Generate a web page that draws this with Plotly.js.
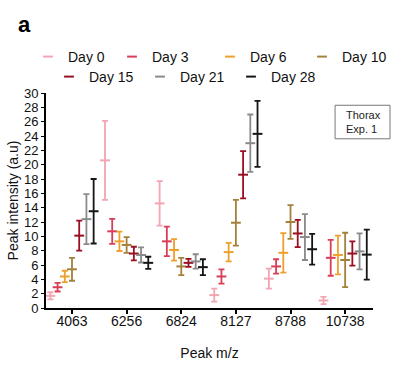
<!DOCTYPE html>
<html>
<head>
<meta charset="utf-8">
<script src="https://cdn.plot.ly/plotly-3.0.1.min.js"></script>
<style>html,body{margin:0;padding:0;background:#fff;}#chart{width:400px;height:367px;}</style>
</head>
<body>
<div id="chart"></div>
<script>
var peaks = ['4063', '6256', '6824', '8127', '8788', '10738'];
var days = ['Day 0', 'Day 3', 'Day 6', 'Day 10', 'Day 15', 'Day 21', 'Day 28'];
var colors = ['#f2a5b3', '#d83e58', '#efa02c', '#a2813a', '#9a0f22', '#8a8a8a', '#151515'];

var day0Mean  = [1.7, 20.6, 14.6, 1.8, 4.1, 1.05];
var day0Sd    = [0.5, 5.5, 3.1, 0.9, 1.4, 0.5];
var day3Mean  = [2.9, 10.7, 9.3, 4.4, 5.8, 7.0];
var day3Sd    = [0.6, 1.75, 2.05, 1.0, 1.0, 2.5];
var day6Mean  = [4.4, 9.3, 8.1, 7.8, 7.7, 7.4];
var day6Sd    = [0.8, 1.35, 1.5, 1.3, 2.75, 2.7];
var day10Mean = [5.4, 8.8, 5.8, 11.9, 12.0, 6.7];
var day10Sd   = [1.6, 1.1, 1.2, 3.2, 2.35, 3.8];
var day15Mean = [10.1, 7.6, 6.3, 18.6, 10.4, 7.6];
var day15Sd   = [2.1, 0.95, 0.55, 3.3, 1.9, 1.7];
var day21Mean = [12.4, 7.4, 6.5, 23.0, 9.9, 7.9];
var day21Sd   = [3.5, 1.05, 1.0, 4.0, 3.2, 2.5];
var day28Mean = [13.5, 6.3, 5.7, 24.3, 8.2, 7.45];
var day28Sd   = [4.5, 0.85, 1.1, 4.6, 2.15, 3.5];

var means = [day0Mean, day3Mean, day6Mean, day10Mean, day15Mean, day21Mean, day28Mean];
var sds = [day0Sd, day3Sd, day6Sd, day10Sd, day15Sd, day21Sd, day28Sd];

// legend entry placement (pixel position of each entry's text start, row)
var legendTextX = [68, 152, 250, 342, 89, 180, 271];
var legendRowY = [57, 57, 57, 57, 77, 77, 77];

var W = 400, H = 367;
var step = 0.132;
var legendNames = days.map(function (d, i) { return i === 0 ? 'legend' : 'legend' + (i + 1); });

var traces = days.map(function (d, i) {
  return {
    type: 'scatter',
    mode: 'markers',
    name: d,
    x: peaks.map(function (p, j) { return j + (i - 3) * step; }),
    y: means[i],
    marker: {symbol: 'line-ew', size: 7, line: {color: colors[i], width: 2}, color: colors[i]},
    error_y: {type: 'data', array: sds[i], visible: true, color: colors[i], thickness: 1.8, width: 3},
    legend: legendNames[i],
    hoverinfo: 'x+y'
  };
});

var legFont = {family: 'Liberation Sans, Arial, sans-serif', size: 14, color: '#111'};
var layout = {
  width: W, height: H,
  margin: {l: 46, r: 27, t: 91, b: 59},
  paper_bgcolor: '#fff', plot_bgcolor: '#fff',
  font: {family: 'Liberation Sans, Arial, sans-serif', size: 14, color: '#111'},
  xaxis: {
    range: [-0.476, 5.51], tickvals: [0, 1, 2, 3, 4, 5], ticktext: peaks,
    showline: true, linecolor: '#000', linewidth: 2, ticks: 'outside', ticklen: 4, tickwidth: 2, tickcolor: '#000',
    showgrid: false, zeroline: false, tickfont: {size: 14}, ticklabelstandoff: -5,
    title: {text: 'Peak m/z', font: {size: 14}, standoff: 20}
  },
  yaxis: {
    range: [0, 30], dtick: 2, tick0: 0,
    showline: true, linecolor: '#000', linewidth: 2, ticks: 'outside', ticklen: 3, tickwidth: 1, tickcolor: '#000',
    showgrid: false, zeroline: false, tickfont: {size: 13}, ticklabelstandoff: 0,
    title: {text: 'Peak intensity (a.u)', font: {size: 14}, standoff: 2}
  },
  shapes: [
    {type: 'rect', xref: 'paper', yref: 'paper', x0: 0.884, x1: 1.052, y0: 0.787, y1: 0.943,
     line: {color: '#777', width: 1}, fillcolor: 'rgba(0,0,0,0)'}
  ],
  annotations: [
    {text: '<b>a</b>', xref: 'paper', yref: 'paper', x: -0.092, y: 1.318, xanchor: 'left', yanchor: 'middle',
     showarrow: false, font: {size: 22, color: '#000'}},
    {text: 'Thorax<br>Exp. 1', xref: 'paper', yref: 'paper', x: 0.912, y: 0.865, xanchor: 'left', yanchor: 'middle',
     showarrow: false, align: 'left', font: {size: 11, color: '#222'}}
  ],
  showlegend: true
};

legendNames.forEach(function (ln, i) {
  layout[ln] = {
    orientation: 'h', xref: 'container', yref: 'container',
    x: (legendTextX[i] - 40) / W, y: 1 - legendRowY[i] / H,
    xanchor: 'left', yanchor: 'middle', font: legFont, itemwidth: 30,
    bgcolor: 'rgba(0,0,0,0)', borderwidth: 0
  };
});

Plotly.newPlot('chart', traces, layout, {displayModeBar: false, staticPlot: true});
</script>
</body>
</html>
